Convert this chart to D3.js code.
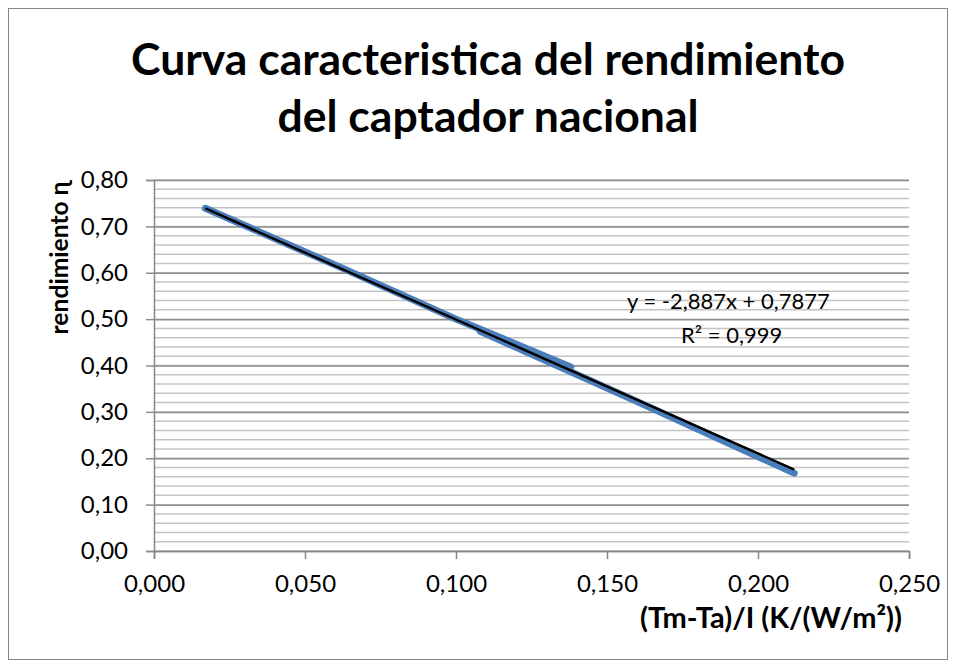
<!DOCTYPE html>
<html>
<head>
<meta charset="utf-8">
<script src="https://cdn.jsdelivr.net/npm/d3@7"></script>
<style>
  body { margin: 0; background: #fff; }
  text { font-family: Lato, "Open Sans", sans-serif; fill: #000; }
</style>
</head>
<body>
<div id="chart"></div>
<script>
// rendimiento chart - d3 line + trendline

var xVals = [0.017, 0.062, 0.100, 0.138, 0.108, 0.160, 0.212];
var yVals = [0.739, 0.611, 0.500, 0.397, 0.474, 0.322, 0.168];
// linear trend reported on the chart
var slope = -2.887;
var intercept = 0.7877;
var eqLabel = "y = -2,887x + 0,7877";
var r2Label = "R² = 0,999";
var xTicks = [0, 0.05, 0.10, 0.15, 0.20, 0.25];
var yTicks = [0, 0.1, 0.2, 0.3, 0.4, 0.5, 0.6, 0.7, 0.8];
var yMinor = d3.range(0, 0.801, 0.02);
var titleLines = ["Curva caracteristica del rendimiento", "del captador nacional"];

var W = 956, H = 668;
var plot = {left: 154, right: 909, top: 180, bottom: 551};

var svg = d3.select("#chart").append("svg")
    .attr("width", W)
    .attr("height", H);

// outer frame
svg.append("rect")
    .attr("x", 8.5).attr("y", 8.5)
    .attr("width", 939).attr("height", 651)
    .attr("fill", "#fff")
    .attr("stroke", "#868686")
    .attr("stroke-width", 1);

var x = d3.scaleLinear().domain([0, 0.25]).range([plot.left, plot.right]);
var y = d3.scaleLinear().domain([0, 0.8]).range([plot.bottom, plot.top]);

var fmt = function(d){ return d3.format(".2f")(d).replace(".", ","); };
var fmtX = function(d){ return d3.format(".3f")(d).replace(".", ","); };

//grid lines - minor then major
svg.append("g")
    .selectAll("line")
    .data(yMinor)
    .enter()
    .append("line")
    .attr("x1", plot.left).attr("x2", plot.right)
    .attr("y1", d => y(d)).attr("y2", d => y(d))
    .attr("stroke", "#c4c4c4")
    .attr("stroke-width", 1.5);

var yAxis = svg.append("g")
    .attr("transform", "translate(" + plot.left + ",0)")
    .call(d3.axisLeft(y).tickValues(yTicks).tickSize(8).tickFormat(fmt));
yAxis.select(".domain").attr("stroke", "#868686").attr("stroke-width", 1.5);
yAxis.selectAll(".tick line").clone()
    .attr("x2", plot.right - plot.left);
yAxis.selectAll(".tick line").attr("stroke", "#8c8c8c").attr("stroke-width", 1.5);
yAxis.selectAll(".tick text")
    .attr("x", -26)
    .style("font-size", "24px")
    .style("font-family", "Lato, sans-serif");

var xAxis = svg.append("g")
    .attr("transform", "translate(0," + plot.bottom + ")")
    .call(d3.axisBottom(x).tickValues(xTicks).tickSize(8).tickFormat(fmtX));
xAxis.select(".domain").attr("stroke", "#868686").attr("stroke-width", 1.5);
xAxis.selectAll(".tick line").attr("stroke", "#868686").attr("stroke-width", 1.5);
xAxis.selectAll(".tick text")
    .attr("y", 24)
    .style("font-size", "24px")
    .style("font-family", "Lato, sans-serif");

//data line
var pts = xVals.map((d, i) => [d, yVals[i]]);
svg.append("path")
    .datum(pts)
    .attr("fill", "none")
    .attr("stroke", "#4a7ebb")
    .attr("stroke-width", 7)
    .attr("stroke-linecap", "round")
    .attr("stroke-linejoin", "round")
    .attr("d", d3.line().x(d => x(d[0])).y(d => y(d[1])));

//trendline over the data range
var xr = d3.extent(xVals);
svg.append("line")
    .attr("x1", x(xr[0])).attr("y1", y(slope * xr[0] + intercept))
    .attr("x2", x(xr[1])).attr("y2", y(slope * xr[1] + intercept))
    .attr("stroke", "#000")
    .attr("stroke-width", 2.4);

//equation
svg.append("text")
    .attr("x", 627).attr("y", 309)
    .style("font-size", "22px")
    .text(eqLabel);
svg.append("text")
    .attr("x", 681).attr("y", 343)
    .style("font-size", "22px")
    .text(r2Label);

//fit text width to a target
function fitText(sel, target){
    var w = sel.node().getComputedTextLength();
    var fs = parseFloat(sel.style("font-size"));
    sel.style("font-size", (fs * target / w) + "px");
}

//title
var t1 = svg.append("text")
    .attr("x", 488).attr("y", 75)
    .attr("text-anchor", "middle")
    .style("font-size", "40px").style("font-weight", "bold")
    .text(titleLines[0]);
fitText(t1, 714);
var t2 = svg.append("text")
    .attr("x", 488).attr("y", 132)
    .attr("text-anchor", "middle")
    .style("font-size", t1.style("font-size")).style("font-weight", "bold")
    .text(titleLines[1]);

//axis labels
var xl = svg.append("text")
    .attr("x", 902).attr("y", 628)
    .attr("text-anchor", "end")
    .style("font-size", "18px").style("font-weight", "bold")
    .text("(Tm-Ta)/I (K/(W/m²))");
fitText(xl, 262);

var yl = svg.append("text")
    .attr("transform", "translate(68,258) rotate(-90)")
    .attr("text-anchor", "middle")
    .style("font-size", "18px").style("font-weight", "bold")
    .text("rendimiento ɳ");
fitText(yl, 153);
</script>
</body>
</html>
